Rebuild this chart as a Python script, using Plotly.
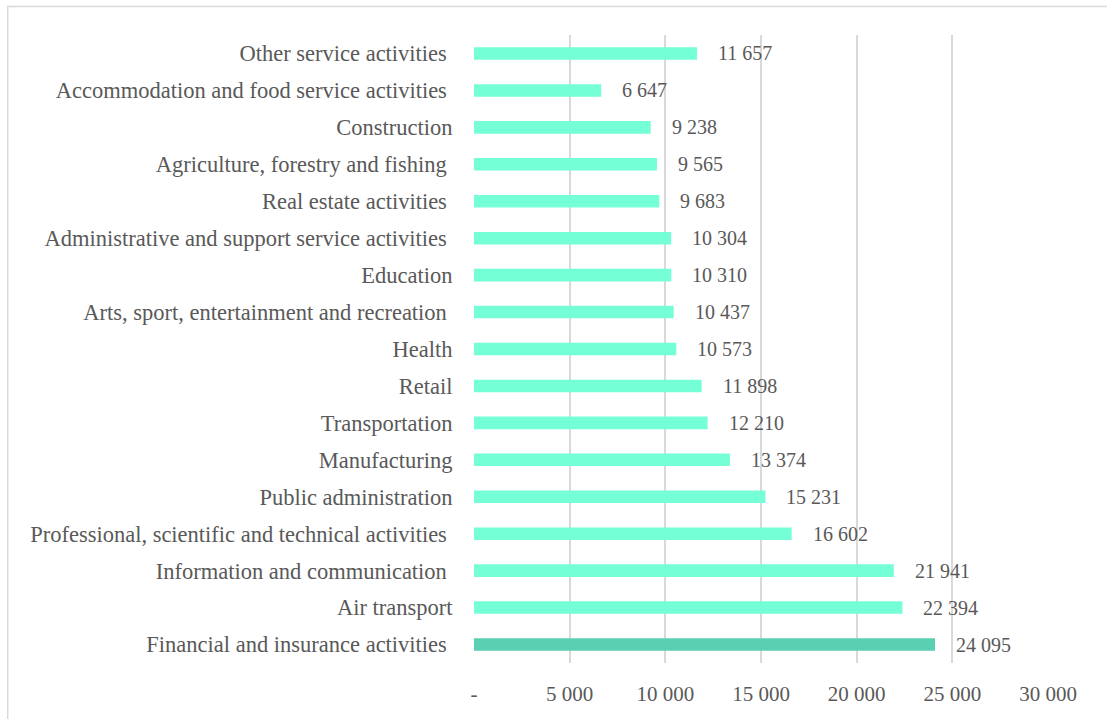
import plotly.graph_objects as go

categories = [
    "Financial and insurance activities\u00a0",
    "Air transport",
    "Information and communication\u00a0",
    "Professional, scientific and technical activities\u00a0",
    "Public administration",
    "Manufacturing",
    "Transportation",
    "Retail",
    "Health",
    "Arts, sport, entertainment and recreation\u00a0",
    "Education",
    "Administrative and support service activities\u00a0",
    "Real estate activities\u00a0",
    "Agriculture, forestry and fishing\u00a0",
    "Construction",
    "Accommodation and food service activities\u00a0",
    "Other service activities\u00a0",
]
values = [24095, 22394, 21941, 16602, 15231, 13374, 12210, 11898, 10573,
          10437, 10310, 10304, 9683, 9565, 9238, 6647, 11657]
tick_vals = [0, 5000, 10000, 15000, 20000, 25000, 30000]
tick_text = ["-", "5 000", "10 000", "15 000", "20 000", "25 000", "30 000"]

colors = ["#5BCFB1"] + ["#75FFD6"] * (len(values) - 1)
FONT = "Liberation Serif"
TXT = "#595959"

fig = go.Figure()
fig.add_trace(go.Bar(
    x=values, y=categories, orientation="h",
    marker=dict(color=colors, line=dict(width=0)),
    hoverinfo="x+y",
))

for c, v in zip(categories, values):
    fig.add_annotation(
        x=v, y=c, text=f"{v:,}".replace(",", " "),
        showarrow=False, xanchor="left", xshift=19,
        font=dict(family=FONT, size=20, color=TXT),
    )

W, H = 1107, 719
L, R, T, B = 473.7, 58.8, 34.5, 55.5
pw, ph = W - L - R, H - T - B

fig.add_shape(
    type="rect", xref="paper", yref="paper",
    x0=(7 - L) / pw, x1=(W + 5 - L) / pw,
    y0=(H - 730 - B) / ph, y1=(H - 6 - B) / ph,
    line=dict(color="#d9d9d9", width=1.5), fillcolor="rgba(0,0,0,0)",
    layer="below",
)

fig.update_layout(
    width=W, height=H,
    margin=dict(l=L, r=R, t=T, b=B, pad=0),
    paper_bgcolor="white", plot_bgcolor="white",
    bargap=0.66, showlegend=False,
    font=dict(family=FONT, size=20, color=TXT),
    xaxis=dict(
        range=[0, 30000], tickvals=tick_vals, ticktext=tick_text,
        showgrid=True, gridcolor="#d9d9d9", gridwidth=1.5,
        zeroline=False, showline=False,
        ticks="outside", ticklen=12, tickcolor="rgba(0,0,0,0)",
        tickfont=dict(family=FONT, size=21, color=TXT),
        fixedrange=True,
    ),
    yaxis=dict(
        showgrid=False, zeroline=False, showline=False,
        ticks="outside", ticklen=16, tickcolor="rgba(0,0,0,0)",
        tickfont=dict(family=FONT, size=22.5, color=TXT),
        automargin=False, fixedrange=True,
    ),
)

fig.write_html("out.html")
